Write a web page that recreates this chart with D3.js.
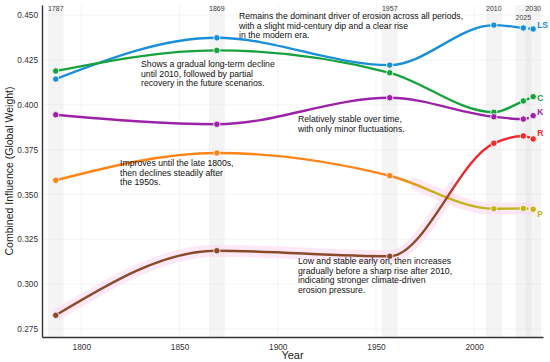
<!DOCTYPE html>
<html>
<head>
<meta charset="utf-8">
<script src="https://cdn.jsdelivr.net/npm/d3@7"></script>
<style>
  body { margin: 0; background: #fff; }
  svg { font-family: "Liberation Sans", Arial, sans-serif; }
</style>
</head>
<body>
<svg id="chart" width="550" height="362"></svg>
<script>
// data
const years = [1787, 1869, 1957, 2010, 2025, 2030];
const lsVals = [0.4143, 0.4373, 0.4221, 0.4444, 0.4428, 0.4422];
const cVals  = [0.4188, 0.4303, 0.4178, 0.3958, 0.4021, 0.4045];
const kVals  = [0.3944, 0.3891, 0.4039, 0.3933, 0.3920, 0.3939];
const pVals  = [0.3579, 0.3731, 0.3604, 0.3420, 0.3422, 0.3417];
const rVals  = [0.2826, 0.3186, 0.3155, 0.3785, 0.3826, 0.3809];
const xTicks = [1800, 1850, 1900, 1950, 2000];
const yTicks = [0.275, 0.300, 0.325, 0.350, 0.375, 0.400, 0.425, 0.450];

const notes = [
  {x: 239, y: 19, lines: ["Remains the dominant driver of erosion across all periods,", "with a slight mid-century dip and a clear rise", "in the modern era."]},
  {x: 141, y: 67, lines: ["Shows a gradual long-term decline", "until 2010, followed by partial", "recovery in the future scenarios."]},
  {x: 298, y: 122, lines: ["Relatively stable over time,", "with only minor fluctuations."]},
  {x: 120, y: 166, lines: ["Improves until the late 1800s,", "then declines steadily after", "the 1950s."]},
  {x: 298, y: 264, lines: ["Low and stable early on, then increases", "gradually before a sharp rise after 2010,", "indicating stronger climate-driven", "erosion pressure."]}
];

// series: colour before / after a change window (years)
const series = [
  {key: "LS", vals: lsVals, c1: "#1a8fd9", c2: "#1a8fd9", from: 2000, to: 2001, labelDy: -4},
  {key: "C",  vals: cVals,  c1: "#18a23f", c2: "#18a23f", from: 2000, to: 2001, labelDy: 1},
  {key: "K",  vals: kVals,  c1: "#9c22a8", c2: "#9c22a8", from: 2000, to: 2001, labelDy: -4},
  {key: "P",  vals: pVals,  c1: "#ff8418", c2: "#c3b41a", from: 1960, to: 1980, labelDy: 5, glow: [1968, 2035]},
  {key: "R",  vals: rVals,  c1: "#8b4a2a", c2: "#ee2a2f", from: 1982, to: 1996, labelDy: -6, glow: [1780, 1990]}
];

const svg = d3.select("#chart");
const W = 550, H = 362;
const margin = {top: 5, right: 7, bottom: 25, left: 42};

const x = d3.scaleLinear().domain([1780, 2035]).range([margin.left, W - margin.right]);
const y = d3.scaleLinear().domain([0.2705, 0.4556]).range([H - margin.bottom, margin.top]);

const defs = svg.append("defs");

// faint grid
const grid = svg.append("g");
grid.selectAll(".gy").data(yTicks).join("line")
  .attr("x1", margin.left).attr("x2", W - margin.right)
  .attr("y1", d => y(d)).attr("y2", d => y(d))
  .attr("stroke", "#f1f1f1").attr("stroke-width", 0.8);
grid.selectAll(".gx").data(xTicks).join("line")
  .attr("y1", margin.top).attr("y2", H - margin.bottom)
  .attr("x1", d => x(d)).attr("x2", d => x(d))
  .attr("stroke", "#f1f1f1").attr("stroke-width", 0.8);

// grey year bands
svg.append("g").selectAll("rect").data(years).join("rect")
  .attr("x", d => x(d - 4)).attr("width", x(1788) - x(1780))
  .attr("y", margin.top).attr("height", H - margin.bottom - margin.top)
  .attr("fill", "#dcdcdc").attr("opacity", 0.32);

svg.append("g").selectAll("text").data(years).join("text")
  .attr("x", d => x(d)).attr("y", d => d === 2025 ? 19.5 : 10.5)
  .attr("text-anchor", "middle").attr("font-size", 7).attr("fill", "#444")
  .text(d => d);

// clip regions for solid / dashed parts
const xSplit = x(2025);
defs.append("clipPath").attr("id", "solid").append("rect")
  .attr("x", 0).attr("y", 0).attr("width", xSplit).attr("height", H);
defs.append("clipPath").attr("id", "dash").append("rect")
  .attr("x", xSplit).attr("y", 0).attr("width", W - xSplit).attr("height", H);

const line = d3.line().x(d => x(d[0])).y(d => y(d[1])).curve(d3.curveMonotoneX);

const colorAt = (s, yr) => yr <= s.from ? s.c1 : s.c2;

// glow under some segments
series.filter(s => s.glow).forEach(s => {
  const id = "glow-" + s.key;
  defs.append("clipPath").attr("id", id).append("rect")
    .attr("x", x(s.glow[0])).attr("y", 0)
    .attr("width", x(s.glow[1]) - x(s.glow[0])).attr("height", H);
  svg.append("path")
    .attr("d", line(years.map((yr, i) => [yr, s.vals[i]])))
    .attr("fill", "none").attr("stroke", "#fcdcf3").attr("stroke-width", 12)
    .attr("opacity", 0.65).attr("clip-path", `url(#${id})`);
});

const lines = svg.append("g");
series.forEach(s => {
  const gid = "grad-" + s.key;
  const grad = defs.append("linearGradient").attr("id", gid)
    .attr("gradientUnits", "userSpaceOnUse")
    .attr("x1", x(s.from)).attr("x2", x(s.to)).attr("y1", 0).attr("y2", 0);
  grad.append("stop").attr("offset", 0).attr("stop-color", s.c1);
  grad.append("stop").attr("offset", 1).attr("stop-color", s.c2);

  const pts = years.map((yr, i) => [yr, s.vals[i]]);
  const g = lines.append("g");
  g.append("path").attr("d", line(pts))
    .attr("fill", "none").attr("stroke", `url(#${gid})`).attr("stroke-width", 2.4)
    .attr("clip-path", "url(#solid)");
  g.append("path").attr("d", line(pts))
    .attr("fill", "none").attr("stroke", `url(#${gid})`).attr("stroke-width", 2.4)
    .attr("stroke-dasharray", "3,2").attr("clip-path", "url(#dash)");

  g.selectAll("circle").data(pts).join("circle")
    .attr("cx", d => x(d[0])).attr("cy", d => y(d[1])).attr("r", 3.2)
    .attr("fill", d => colorAt(s, d[0])).attr("stroke", "#fff").attr("stroke-width", 0.8);

  g.append("text")
    .attr("x", x(2030) + 4).attr("y", y(s.vals[s.vals.length - 1]) + s.labelDy + 3)
    .attr("font-size", 8.5).attr("font-weight", "bold")
    .attr("fill", s.c2).text(s.key);
});

// axes
const xAxis = svg.append("g").attr("transform", `translate(0,${H - margin.bottom})`)
  .call(d3.axisBottom(x).tickValues(xTicks).tickSize(0).tickPadding(7).tickFormat(d3.format("d")));
const yAxis = svg.append("g").attr("transform", `translate(${margin.left},0)`)
  .call(d3.axisLeft(y).tickValues(yTicks).tickSize(0).tickPadding(4).tickFormat(d3.format(".3f")));
[xAxis, yAxis].forEach(a => {
  a.select(".domain").attr("stroke", "#333").attr("stroke-width", 1.4);
  a.selectAll("text").attr("font-size", 8.3).attr("fill", "#333")
    .attr("font-family", "Liberation Sans, Arial, sans-serif");
});

svg.append("text").attr("x", (margin.left + W - margin.right) / 2).attr("y", 359)
  .attr("text-anchor", "middle").attr("font-size", 11).attr("fill", "#222").text("Year");
svg.append("text")
  .attr("transform", `translate(13,${(margin.top + H - margin.bottom) / 2}) rotate(-90)`)
  .attr("text-anchor", "middle").attr("font-size", 10.5).attr("fill", "#222")
  .text("Combined Influence (Global Weight)");

// annotations
const ann = svg.append("g");
notes.forEach(n => {
  const t = ann.append("text").attr("x", n.x).attr("y", n.y)
    .attr("font-size", 8.7).attr("fill", "#111");
  n.lines.forEach((l, i) => t.append("tspan").attr("x", n.x).attr("dy", i ? 9.6 : 0).text(l));
});
</script>
</body>
</html>
